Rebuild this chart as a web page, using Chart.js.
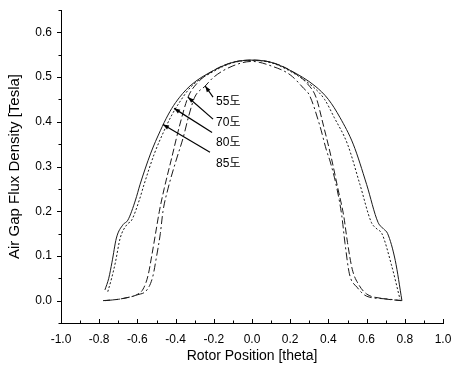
<!DOCTYPE html>
<html>
<head>
<meta charset="utf-8">
<script src="https://cdn.jsdelivr.net/npm/chart.js@4/dist/chart.umd.min.js"></script>
<style>
html,body{margin:0;padding:0;background:#fff;}
#wrap{width:457px;height:373px;position:relative;}
</style>
</head>
<body>
<div id="wrap"><canvas id="c" width="457" height="373"></canvas></div>
<script>
// ---- data ----
const xTicks = [-1.0,-0.8,-0.6,-0.4,-0.2,0.0,0.2,0.4,0.6,0.8,1.0];
const yTicks = [0.0,0.1,0.2,0.3,0.4,0.5,0.6];

const x85 = [-0.77,-0.75,-0.733,-0.71,-0.675,-0.65,-0.61,-0.586,-0.53,-0.48,-0.44,-0.40,-0.325,-0.2,-0.1,0,0.1,0.2,0.33,0.40,0.46,0.53,0.6,0.66,0.69,0.71,0.75,0.785];
const y85 = [0.024,0.05,0.086,0.14,0.17,0.18,0.225,0.26,0.33,0.38,0.415,0.443,0.48,0.515,0.533,0.538,0.533,0.515,0.48,0.45,0.41,0.35,0.26,0.175,0.16,0.15,0.09,0.0];

const x80 = [-0.755,-0.735,-0.715,-0.69,-0.655,-0.63,-0.59,-0.565,-0.51,-0.46,-0.42,-0.385,-0.32,-0.2,-0.1,0,0.1,0.2,0.32,0.38,0.43,0.50,0.565,0.625,0.655,0.68,0.73,0.775];
const y80 = [0.02,0.05,0.086,0.14,0.17,0.18,0.225,0.26,0.33,0.38,0.415,0.44,0.478,0.513,0.532,0.537,0.532,0.513,0.478,0.45,0.41,0.35,0.26,0.175,0.16,0.15,0.08,0.003];

const x70 = [-0.78,-0.7,-0.64,-0.6,-0.57,-0.545,-0.525,-0.505,-0.485,-0.46,-0.42,-0.38,-0.335,-0.29,-0.2,-0.1,0,0.1,0.2,0.29,0.335,0.375,0.415,0.45,0.48,0.5,0.525,0.56,0.6,0.68,0.78];
const y70 = [0.0,0.003,0.008,0.014,0.026,0.055,0.1,0.15,0.2,0.25,0.32,0.39,0.455,0.485,0.515,0.533,0.538,0.533,0.515,0.485,0.455,0.39,0.32,0.25,0.19,0.13,0.07,0.035,0.015,0.005,0.0];

const x55 = [-0.77,-0.7,-0.64,-0.6,-0.55,-0.52,-0.5,-0.48,-0.466,-0.44,-0.4,-0.36,-0.33,-0.3,-0.245,-0.2,-0.1,0,0.1,0.2,0.27,0.3,0.356,0.39,0.41,0.445,0.47,0.487,0.51,0.55,0.6,0.7,0.785];
const y55 = [0.0,0.003,0.008,0.013,0.024,0.053,0.098,0.15,0.2,0.25,0.31,0.365,0.415,0.455,0.48,0.5,0.525,0.535,0.525,0.505,0.475,0.46,0.39,0.336,0.31,0.25,0.19,0.128,0.06,0.03,0.01,0.004,0.0];

// annotation labels and arrow anchors (data coordinates)
const annLabels = ['55도','70도','80도','85도'];
const annTipX  = [-0.245,-0.335,-0.408,-0.466];
const annTipY  = [0.48,0.455,0.43,0.394];
const annTailX = [-0.204,-0.204,-0.209,-0.22];
const annTailY = [0.455,0.406,0.376,0.332];
const annTextX = [-0.188,-0.188,-0.188,-0.188];
const annTextY = [0.445,0.398,0.354,0.307];

function pts(xs, ys){ return xs.map((x,i)=>({x:x,y:ys[i]})); }

const FONT = "'Liberation Sans', Arial, 'Noto Sans CJK KR', sans-serif";

const tickPlugin = {
  id:'tickMarks',
  afterDraw(chart){
    const ctx = chart.ctx, xs = chart.scales.x, ys = chart.scales.y;
    const ca = chart.chartArea;
    ctx.save();
    ctx.strokeStyle = '#000'; ctx.lineWidth = 1;
    ctx.beginPath();
    for (let i=0;i<xTicks.length;i++){
      const px = Math.round(xs.getPixelForValue(xTicks[i]))+0.5;
      ctx.moveTo(px, ca.bottom); ctx.lineTo(px, ca.bottom-4);
      if (i<xTicks.length-1){
        const pm = Math.round(xs.getPixelForValue((xTicks[i]+xTicks[i+1])/2))+0.5;
        ctx.moveTo(pm, ca.bottom); ctx.lineTo(pm, ca.bottom-2.5);
      }
    }
    for (let i=0;i<yTicks.length;i++){
      const py = Math.round(ys.getPixelForValue(yTicks[i]))+0.5;
      ctx.moveTo(ca.left, py); ctx.lineTo(ca.left-4, py);
      const pm1 = Math.round(ys.getPixelForValue(yTicks[i]-0.05))+0.5;
      ctx.moveTo(ca.left, pm1); ctx.lineTo(ca.left-2.5, pm1);
    }
    const pTop = Math.round(ys.getPixelForValue(yTicks[yTicks.length-1]+0.05))+0.5;
    ctx.moveTo(ca.left, pTop); ctx.lineTo(ca.left-2.5, pTop);
    ctx.stroke();

    ctx.font = "12px " + FONT;
    ctx.fillStyle = '#000';
    ctx.textBaseline = 'middle';
    ctx.textAlign = 'left';
    for (let i=0;i<annLabels.length;i++){
      const tx = xs.getPixelForValue(annTipX[i]), ty = ys.getPixelForValue(annTipY[i]);
      const bx = xs.getPixelForValue(annTailX[i]), by = ys.getPixelForValue(annTailY[i]);
      ctx.lineWidth = 1.2;
      ctx.beginPath(); ctx.moveTo(bx,by); ctx.lineTo(tx,ty); ctx.stroke();
      const ang = Math.atan2(ty-by, tx-bx), L=6, W=2.2;
      ctx.beginPath();
      ctx.moveTo(tx,ty);
      ctx.lineTo(tx - L*Math.cos(ang) + W*Math.sin(ang), ty - L*Math.sin(ang) - W*Math.cos(ang));
      ctx.lineTo(tx - L*Math.cos(ang) - W*Math.sin(ang), ty - L*Math.sin(ang) + W*Math.cos(ang));
      ctx.closePath(); ctx.fill();
      ctx.fillText(annLabels[i], xs.getPixelForValue(annTextX[i]), ys.getPixelForValue(annTextY[i]));
    }
    ctx.restore();
  }
};

const bgPlugin = {
  id:'bg',
  beforeDraw(chart){ const c=chart.ctx; c.save(); c.fillStyle='#fff'; c.fillRect(0,0,chart.width,chart.height); c.restore(); }
};

const common = {pointRadius:0, borderColor:'#1a1a1a', borderWidth:1, fill:false, cubicInterpolationMode:'monotone'};

new Chart(document.getElementById('c'), {
  type:'line',
  data:{
    datasets:[
      Object.assign({label:'85도', data:pts(x85,y85)}, common),
      Object.assign({label:'80도', data:pts(x80,y80), borderDash:[2,2]}, common),
      Object.assign({label:'70도', data:pts(x70,y70), borderDash:[7,3]}, common),
      Object.assign({label:'55도', data:pts(x55,y55), borderDash:[8,3,2,3]}, common)
    ]
  },
  options:{
    responsive:false, animation:false, devicePixelRatio:1,
    layout:{padding:{left:0,top:10,right:14,bottom:0}},
    plugins:{legend:{display:false}, tooltip:{enabled:false}},
    scales:{
      x:{
        type:'linear', min:-1, max:1,
        afterBuildTicks(s){ s.ticks = xTicks.map(v=>({value:v})); },
        afterFit(s){ s.height = 50; s.paddingLeft = 0; s.paddingRight = 0; },
        grid:{display:false, drawTicks:false},
        border:{display:true, color:'#000', width:1},
        ticks:{color:'#000', padding:9, maxRotation:0, autoSkip:false,
               font:{family:FONT, size:12},
               callback:(v)=>Number(v).toFixed(1)},
        title:{display:true, text:'Rotor Position [theta]', color:'#000',
               font:{family:FONT, size:14}, padding:{top:0,bottom:8}}
      },
      y:{
        type:'linear', min:-0.05, max:0.65,
        afterBuildTicks(s){ s.ticks = yTicks.map(v=>({value:v})); },
        afterFit(s){ s.width = 61; s.paddingTop = 0; s.paddingBottom = 0; },
        grid:{display:false, drawTicks:false},
        border:{display:true, color:'#000', width:1},
        ticks:{color:'#000', padding:9, autoSkip:false,
               font:{family:FONT, size:12},
               callback:(v)=>Number(v).toFixed(1)},
        title:{display:true, text:'Air Gap Flux Density [Tesla]', color:'#000',
               font:{family:FONT, size:15}, padding:{top:6,bottom:0}}
      }
    }
  },
  plugins:[bgPlugin, tickPlugin]
});
</script>
</body>
</html>
